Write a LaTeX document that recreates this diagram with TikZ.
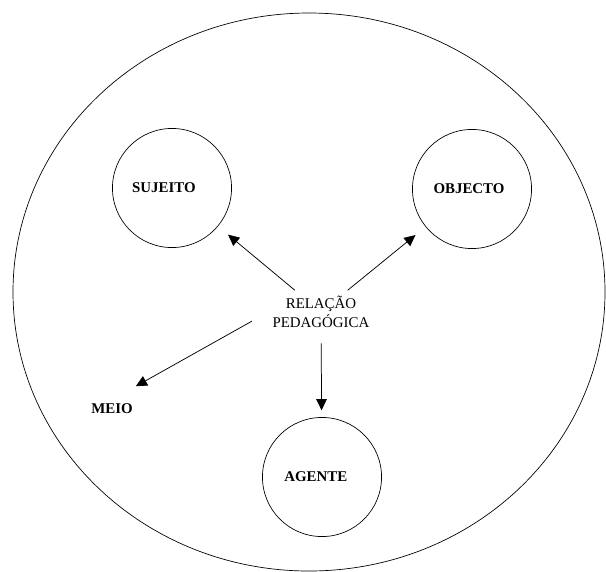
\documentclass[tikz,border=0pt]{standalone}
\usepackage{fontspec}
\setmainfont{Liberation Serif}
\usetikzlibrary{arrows.meta,positioning}

\tikzset{
  ring/.style={draw, circle, line width=0.55pt, minimum size=96pt, inner sep=0pt},
  tag/.style={font=\fontsize{12}{14}\selectfont\bfseries},
  link/.style={-{Triangle[length=9pt,width=8.5pt]}, line width=0.6pt},
}

\begin{document}
\begin{tikzpicture}[x=0.806pt, y=-0.806pt]
  \useasboundingbox (0,0) rectangle (606,571);

  % outer boundary
  \draw[line width=0.55pt] (309,292) ellipse [x radius=296, y radius=279];

  % circles round the three poles
  \node[ring, label={[tag, xshift=-6.5pt]center:SUJEITO}] (suj) at (172,188) {};
  \node[ring, label={[tag, xshift=-2.4pt]center:OBJECTO}] (obj) at (472,189) {};
  \node[ring, label={[tag, xshift=-5pt]center:AGENTE}] (age) at (322,477) {};

  % centre and the loose label
  \node[font=\fontsize{12}{15.3}\selectfont, align=center] (rel) at (321,312) {RELAÇÃO\\PEDAGÓGICA};
  \node[tag] (meio) at (112,409) {MEIO};

  % arrows out of the centre
  \draw[link, shorten <=2pt, shorten >=10.5pt] (rel) -- (suj);
  \draw[link, shorten <=2pt, shorten >=10.5pt] (rel) -- (obj);
  \draw[link, shorten <=9pt, shorten >=5.5pt] (rel) -- (age);
  \draw[link, shorten <=15pt, shorten >=22pt] (rel.west) -- (meio.north);
\end{tikzpicture}
\end{document}
